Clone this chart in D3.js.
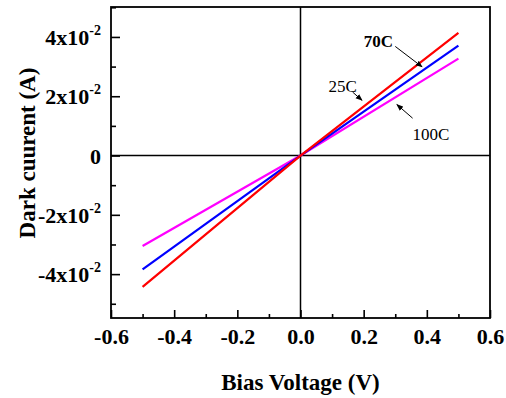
<!DOCTYPE html>
<html>
<head>
<meta charset="utf-8">
<script src="https://cdn.jsdelivr.net/npm/d3@7.9.0/dist/d3.min.js"></script>
<style>
  html, body { margin: 0; padding: 0; background: #fff; }
  svg { display: block; font-family: "Liberation Serif", "Times New Roman", serif; }
</style>
</head>
<body>
<div id="plot-container"></div>
<script>
// bias voltage points (V)
const voltage = [-0.5, 0, 0.5];
// dark current (A) for each temperature
const current25 = [-0.0384, 0, 0.0371];
const current70 = [-0.0443, 0, 0.0414];
const current100 = [-0.0305, 0, 0.0327];

const seriesNames = ["25C", "70C", "100C"];
const seriesColors = ["#0000ff", "#ff0000", "#ff00ff"];

const xTicks = [-0.6, -0.4, -0.2, 0.0, 0.2, 0.4, 0.6];
const yTicks = [-0.04, -0.02, 0, 0.02, 0.04];

// annotation labels: text position and arrow in data units
const labels = [
    { text: "70C", bold: true, x: 0.2, y: 0.0365, ax0: 0.3, ay0: 0.0368, ax1: 0.385, ay1: 0.0299 },
    { text: "25C", bold: false, x: 0.089, y: 0.0214, ax0: 0.165, ay0: 0.0214, ax1: 0.195, ay1: 0.0186 },
    { text: "100C", bold: false, x: 0.355, y: 0.0053, ax0: 0.355, ay0: 0.0126, ax1: 0.305, ay1: 0.0172 }
];

const width = 506;
const height = 398;
const margin = { top: 7, right: 16, bottom: 80, left: 111 };

const svg = d3.select('#plot-container')
    .append('svg')
    .attr('width', width)
    .attr('height', height);

svg.append('defs').append('marker')
    .attr('id', 'arrow')
    .attr('viewBox', '0 0 10 10')
    .attr('refX', 9)
    .attr('refY', 5)
    .attr('markerWidth', 7)
    .attr('markerHeight', 7)
    .attr('markerUnits', 'userSpaceOnUse')
    .attr('orient', 'auto')
    .append('path')
    .attr('d', 'M0,1 L10,5 L0,9 Z')
    .attr('fill', '#000');

const xScale = d3.scaleLinear()
    .domain([-0.6, 0.6])
    .range([margin.left, width - margin.right]);

const yScale = d3.scaleLinear()
    .domain([-0.0548, 0.0501])
    .range([height - margin.bottom, margin.top]);

const x0 = margin.left, x1 = width - margin.right;
const y0 = height - margin.bottom, y1 = margin.top;

// zero lines
svg.append('line')
    .attr('x1', x0).attr('x2', x1)
    .attr('y1', yScale(0)).attr('y2', yScale(0))
    .attr('stroke', '#000').attr('stroke-width', 1.5);
svg.append('line')
    .attr('x1', xScale(0)).attr('x2', xScale(0))
    .attr('y1', y0).attr('y2', y1)
    .attr('stroke', '#000').attr('stroke-width', 1.5);

// axes with inward ticks
const xMinor = d3.range(-6, 7).map(d => d / 10).filter(d => !xTicks.some(t => Math.abs(t - d) < 1e-9));
const yMinor = d3.range(-5, 6).map(d => d / 100).filter(d => !yTicks.some(t => Math.abs(t - d) < 1e-9));

const fmtX = d => d3.format('.1f')(d).replace('\u2212', '-');

const gx = svg.append('g').attr('transform', `translate(0, ${y0})`);
gx.call(d3.axisBottom(xScale).tickValues(xMinor).tickSize(-4).tickFormat(''));
gx.append('g').call(d3.axisBottom(xScale).tickValues(xTicks).tickSize(-8).tickPadding(10).tickFormat(fmtX));

const gy = svg.append('g').attr('transform', `translate(${x0}, 0)`);
gy.call(d3.axisLeft(yScale).tickValues(yMinor).tickSize(-5).tickFormat(''));
gy.append('g').call(d3.axisLeft(yScale).tickValues(yTicks).tickSize(-9).tickPadding(12).tickFormat(''));

svg.selectAll('.domain').remove();
svg.selectAll('.tick line').attr('stroke', '#000').attr('stroke-width', 1.6);

gx.selectAll('.tick text')
    .attr('font-size', 22)
    .attr('font-weight', 'bold')
    .attr('fill', '#000')
    .attr('font-family', '"Liberation Serif", serif');

// y tick labels with superscript exponent
yTicks.forEach(t => {
    const txt = svg.append('text')
        .attr('x', 101)
        .attr('y', yScale(t) + 8)
        .attr('text-anchor', 'end')
        .attr('font-size', 22)
        .attr('font-weight', 'bold')
        .attr('fill', '#000');
    if (t === 0) {
        txt.text('0');
    } else {
        txt.append('tspan').text(`${Math.round(t * 100)}x10`);
        txt.append('tspan').attr('dy', -10).attr('font-size', 14).text('-2');
    }
});

// frame
svg.append('rect')
    .attr('x', x0).attr('y', y1)
    .attr('width', x1 - x0).attr('height', y0 - y1)
    .attr('fill', 'none')
    .attr('stroke', '#000')
    .attr('stroke-width', 1.8);

// data lines
const line = d3.line()
    .x(d => xScale(d[0]))
    .y(d => yScale(d[1]));

const allSeries = [current100, current25, current70];
const drawColors = ["#ff00ff", "#0000ff", "#ff0000"];
allSeries.forEach((vals, i) => {
    svg.append('path')
        .datum(voltage.map((v, j) => [v, vals[j]]))
        .attr('fill', 'none')
        .attr('stroke', drawColors[i])
        .attr('stroke-width', 2.2)
        .attr('d', line);
});

// annotations
labels.forEach(l => {
    svg.append('text')
        .attr('x', xScale(l.x))
        .attr('y', yScale(l.y))
        .attr('font-size', 17)
        .attr('font-weight', l.bold ? 'bold' : 'normal')
        .attr('fill', '#000')
        .text(l.text);
    svg.append('line')
        .attr('x1', xScale(l.ax0)).attr('y1', yScale(l.ay0))
        .attr('x2', xScale(l.ax1)).attr('y2', yScale(l.ay1))
        .attr('stroke', '#000')
        .attr('stroke-width', 1)
        .attr('marker-end', 'url(#arrow)');
});

// axis titles
svg.append('text')
    .attr('x', xScale(0))
    .attr('y', 390)
    .attr('text-anchor', 'middle')
    .attr('font-size', 23)
    .attr('font-weight', 'bold')
    .attr('fill', '#000')
    .text('Bias Voltage (V)');

svg.append('text')
    .attr('transform', `translate(35, ${153}) rotate(-90)`)
    .attr('text-anchor', 'middle')
    .attr('font-size', 23)
    .attr('font-weight', 'bold')
    .attr('fill', '#000')
    .text('Dark cuurent (A)');
</script>
</body>
</html>
